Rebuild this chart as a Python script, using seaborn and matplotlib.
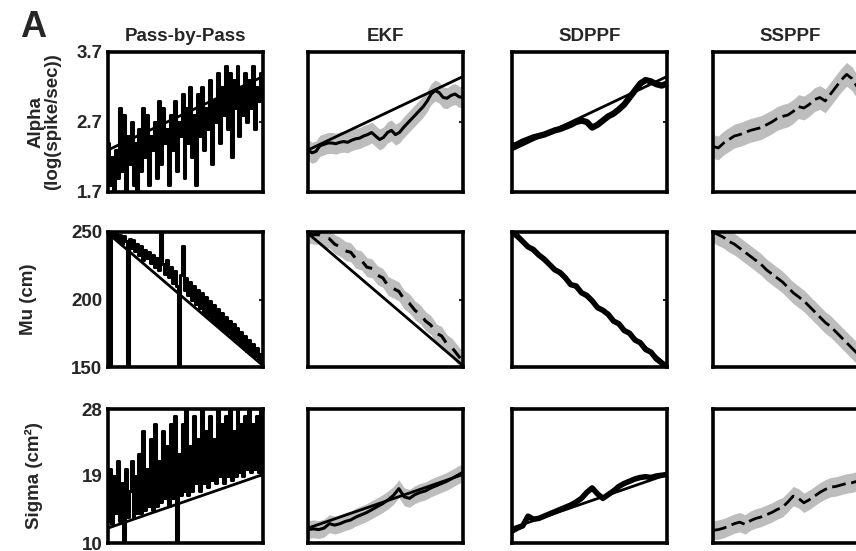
import numpy as np
import seaborn as sns
import matplotlib
matplotlib.use("Agg")
import matplotlib.pyplot as plt

# panel titles / row labels
methods = ["Pass-by-Pass", "EKF", "SDPPF", "SSPPF"]
row_labels = ["Alpha\n(log(spike/sec))", "Mu (cm)", "Sigma (cm²)"]
row_limits = [(1.7, 3.7), (150, 250), (10, 28)]
row_ticks = [[1.7, 2.7, 3.7], [150, 200, 250], [10, 19, 28]]
tick_text = [["1.7", "2.7", "3.7"], ["150", "200", "250"], ["10", "19", "28"]]

# true parameter trajectories (start, end)
alpha_true = [2.30, 3.35]
mu_true = [249, 151]
sigma_true = [12.0, 19.2]

# pass-by-pass estimates
alpha_pass = [2.4, 1.8, 2.2, 1.7, 2.3, 1.9, 2.9, 2.0, 2.8, 1.7, 2.5, 2.1, 2.7, 1.8, 2.4, 1.7,
              2.6, 2.0, 2.9, 2.2, 2.8, 1.8, 2.5, 2.3, 2.7, 1.9, 3.0, 2.1, 2.9, 2.4, 2.6, 1.8,
              2.8, 2.3, 3.0, 2.0, 2.7, 2.5, 3.1, 1.9, 2.9, 2.4, 3.2, 2.2, 2.8, 1.8, 3.1, 2.5,
              3.2, 2.3, 2.9, 2.6, 3.3, 2.1, 3.0, 2.7, 3.4, 2.4, 3.2, 2.8, 3.5, 2.6, 3.4, 2.2,
              3.3, 2.9, 3.5, 2.5, 3.2, 2.8, 3.4, 2.7, 3.3, 2.9, 3.5, 2.6, 3.2, 3.0, 3.4, 3.2]
mu_pass = [250, 150, 249, 246, 250, 244, 248, 241, 247, 243, 150, 245, 238, 244, 236, 241,
           233, 240, 229, 237, 231, 235, 227, 233, 224, 231, 222, 250, 226, 219, 229, 217,
           224, 212, 221, 210, 150, 218, 240, 207, 216, 203, 213, 200, 210, 197, 207, 194,
           205, 190, 202, 188, 199, 185, 196, 182, 193, 180, 190, 177, 187, 175, 184, 172,
           182, 170, 179, 168, 176, 165, 173, 162, 170, 160, 167, 158, 164, 155, 160, 153]
sigma_pass = [13, 20, 12.5, 19, 14, 21, 13, 18, 10, 20, 13.5, 17, 21, 13.5, 19, 14,
              22, 14, 25, 14.5, 20, 15, 24, 14.5, 26, 15, 21, 15.5, 25, 16, 23, 15,
              26, 16, 27, 10, 22, 16.5, 26, 17, 28, 16.5, 23, 17, 27, 18, 24, 17,
              28, 18, 25, 17.5, 27, 18.5, 24, 18, 28, 19, 26, 18, 27, 19, 28, 18.5,
              25, 19, 28, 19.5, 26, 19, 27, 20, 28, 19.5, 26, 20, 27, 19.5, 28, 20]

# EKF estimates and confidence half-widths
alpha_ekf = [2.30, 2.26, 2.28, 2.36, 2.38, 2.40, 2.40, 2.39, 2.41, 2.42, 2.41, 2.44, 2.46,
             2.47, 2.50, 2.52, 2.55, 2.50, 2.45, 2.48, 2.55, 2.58, 2.52, 2.55, 2.62, 2.68,
             2.74, 2.80, 2.86, 2.92, 3.00, 3.10, 3.15, 3.12, 3.05, 3.04, 3.08, 3.10, 3.06, 3.05]
mu_ekf = [249, 248, 248, 246, 245, 241, 239, 236, 235, 230, 229, 224, 223, 218, 216,
          210, 208, 206, 200, 197, 192, 189, 184, 181, 175, 173, 167, 164, 159, 154]
sigma_ekf = [11.8, 11.9, 11.8, 12.0, 12.6, 12.4, 12.6, 12.9, 13.1, 13.5, 13.8, 14.1, 14.5,
             14.9, 15.3, 15.8, 16.4, 17.3, 16.2, 16.0, 16.5, 16.8, 17.0, 17.4, 17.7, 18.0,
             18.3, 18.7, 19.1, 19.5]
ekf_band = [0.15, 7, 1.2]

# SDPPF estimates
alpha_sdppf = [2.35, 2.38, 2.42, 2.45, 2.48, 2.50, 2.52, 2.55, 2.58, 2.60, 2.63, 2.66, 2.70,
               2.72, 2.70, 2.62, 2.66, 2.72, 2.78, 2.82, 2.88, 2.95, 3.05, 3.15, 3.25, 3.30,
               3.28, 3.24, 3.22, 3.25]
mu_sdppf = [250, 247, 243, 239, 237, 233, 230, 226, 222, 220, 216, 211, 210, 205, 203,
            199, 194, 192, 189, 184, 182, 177, 175, 170, 168, 163, 161, 156, 153, 150]
sigma_sdppf = [11.6, 12.0, 12.3, 13.6, 13.2, 13.3, 13.6, 13.9, 14.2, 14.5, 14.8, 15.1, 15.5,
               16.0, 16.8, 17.4, 16.6, 16.0, 16.5, 17.0, 17.6, 18.0, 18.3, 18.6, 18.8, 18.9,
               18.8, 19.0, 19.1, 19.2]

# SSPPF estimates and confidence half-widths
alpha_ssppf = [2.35, 2.33, 2.40, 2.45, 2.50, 2.52, 2.55, 2.58, 2.60, 2.62, 2.66, 2.70, 2.75,
               2.78, 2.80, 2.85, 2.92, 2.90, 2.95, 3.02, 3.05, 3.00, 3.10, 3.20, 3.30, 3.38,
               3.32, 3.20, 3.15, 3.20]
mu_ssppf = [250, 248, 246, 243, 241, 238, 235, 232, 229, 226, 222, 219, 216, 213, 209,
            205, 202, 199, 195, 191, 187, 183, 180, 176, 172, 168, 164, 160, 157, 154]
sigma_ssppf = [11.7, 11.8, 12.0, 12.3, 12.6, 12.8, 12.5, 13.0, 13.3, 13.5, 13.8, 14.1, 14.5,
               14.8, 15.5, 16.3, 16.0, 15.4, 15.8, 16.3, 16.8, 17.2, 17.5, 17.6, 17.8, 18.0,
               18.1, 18.3, 18.5, 18.7]
ssppf_band = [0.17, 8, 1.3]

true_rows = [alpha_true, mu_true, sigma_true]
pass_rows = [alpha_pass, mu_pass, sigma_pass]
ekf_rows = [alpha_ekf, mu_ekf, sigma_ekf]
sdppf_rows = [alpha_sdppf, mu_sdppf, sigma_sdppf]
ssppf_rows = [alpha_ssppf, mu_ssppf, sigma_ssppf]

sns.set_style("white")
plt.rcParams["font.family"] = ["Liberation Sans", "DejaVu Sans"]
plt.rcParams["font.weight"] = "bold"
plt.rcParams["axes.titleweight"] = "bold"
plt.rcParams["axes.labelweight"] = "bold"

W, H = 856, 551
fig = plt.figure(figsize=(W / 100, H / 100), dpi=100)

# panel placement in pixels
col_left = [108, 308, 512, 713]
col_w = 155
row_top = [52, 232, 409]
row_h = [140, 135, 134]
label_x = [-0.30, -0.46, -0.42]
gray = "#bdbdbd"


def pos(vals):
    return np.linspace(0, 1, len(vals))


for r in range(3):
    for c in range(4):
        ax = fig.add_axes([col_left[c] / W, 1 - (row_top[r] + row_h[r]) / H,
                           col_w / W, row_h[r] / H])
        if c == 0:
            sns.lineplot(x=pos(pass_rows[r]), y=pass_rows[r], ax=ax, color="k", lw=2.2,
                         drawstyle="steps-mid")
            sns.lineplot(x=[0, 1], y=true_rows[r], ax=ax, color="k", lw=2)
        elif c == 1:
            est = np.array(ekf_rows[r])
            ax.fill_between(pos(est), est - ekf_band[r], est + ekf_band[r],
                            color=gray, lw=0)
            sns.lineplot(x=[0, 1], y=true_rows[r], ax=ax, color="k", lw=2)
            sns.lineplot(x=pos(est), y=est, ax=ax, color="k", lw=2.2,
                         linestyle="-" if r != 1 else (0, (4, 3)))
        elif c == 2:
            sns.lineplot(x=[0, 1], y=true_rows[r], ax=ax, color="k", lw=2)
            sns.lineplot(x=pos(sdppf_rows[r]), y=sdppf_rows[r], ax=ax, color="k",
                         lw=4.5 if r == 0 else 4)
        else:
            est = np.array(ssppf_rows[r])
            ax.fill_between(pos(est), est - ssppf_band[r], est + ssppf_band[r],
                            color=gray, lw=0)
            sns.lineplot(x=pos(est), y=est, ax=ax, color="k", lw=2,
                         linestyle=(0, (5, 2)))

        ax.set_xlim(0, 1)
        ax.set_ylim(*row_limits[r])
        ax.set_xticks([0.5])
        ax.set_xticklabels([])
        ax.set_yticks(row_ticks[r])
        ax.tick_params(direction="in", length=3, width=1.5, right=True,
                       labelsize=13.5, pad=4)
        if c == 0:
            ax.set_yticklabels(tick_text[r])
            ax.set_ylabel(row_labels[r], fontsize=13.5, linespacing=1.0)
            ax.yaxis.set_label_coords(label_x[r], 0.5)
        else:
            ax.set_yticklabels([])
            ax.set_ylabel("")
        for s in ax.spines.values():
            s.set_linewidth(2.6)
            s.set_color("k")
        if r == 0:
            ax.set_title(methods[c], fontsize=13.5, pad=8)

fig.text(20 / W, 1 - 37 / H, "A", fontsize=26, fontweight="bold", va="baseline")

fig.savefig("out.png", dpi=100)
